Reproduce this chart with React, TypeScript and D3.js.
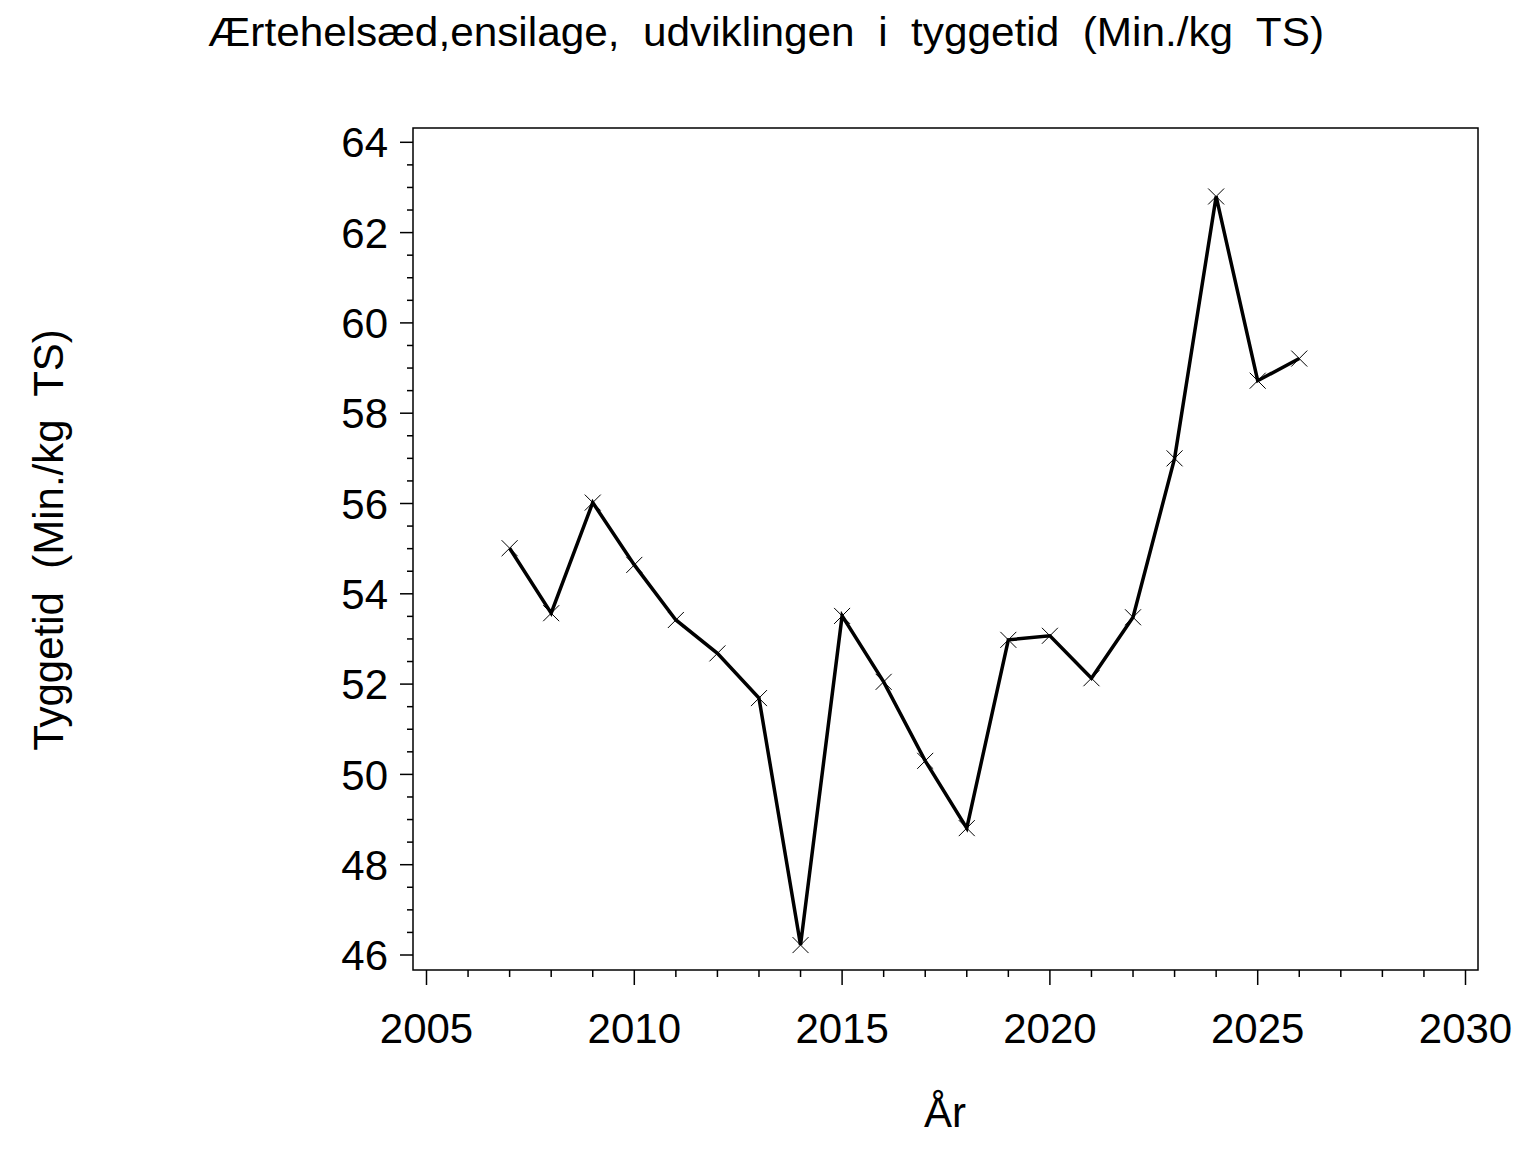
import * as d3 from "d3";

const years = [2007, 2008, 2009, 2010, 2011, 2012, 2013, 2014, 2015, 2016, 2017, 2018, 2019, 2020, 2021, 2022, 2023, 2024, 2025, 2026];
const tyggetid = [55.01, 53.57, 56.02, 54.64, 53.42, 52.68, 51.69, 46.22, 53.51, 52.05, 50.3, 48.81, 52.98, 53.07, 52.13, 53.48, 57.0, 62.8, 58.72, 59.21];
const yTicks = [46, 48, 50, 52, 54, 56, 58, 60, 62, 64];
const xTicks = [2005, 2010, 2015, 2020, 2025, 2030];

const title = "Ærtehelsæd,ensilage,  udviklingen  i  tyggetid  (Min./kg  TS)";
const yLabel = "Tyggetid  (Min./kg  TS)";
const xLabel = "År";

const W = 1536;
const H = 1152;
const frame = { left: 413, right: 1478, top: 128, bottom: 970 };
const font = "'Liberation Sans', Arial, Helvetica, sans-serif";

export default function App() {
  const x = d3.scaleLinear().domain([2005, 2030]).range([426.5, 1465.5]);
  const y = d3.scaleLinear().domain([46, 64]).range([955, 142.3]);

  const pts = years.map((yr, i) => ({ yr, v: tyggetid[i] }));
  const line = d3
    .line<{ yr: number; v: number }>()
    .x((d) => x(d.yr))
    .y((d) => y(d.v));

  const yMinor = d3.range(46, 64.01, 0.5).filter((v) => !yTicks.includes(v));
  const xMinor = d3.range(2005, 2030.01, 1).filter((v) => !xTicks.includes(v));

  return (
    <svg
      width={W}
      height={H}
      style={{ display: "block", position: "absolute", left: 0, top: 0, background: "#fff" }}
      fontFamily={font}
    >
      <text
        x={766}
        y={46}
        fontSize={40}
        textAnchor="middle"
        textLength={1116}
        lengthAdjust="spacingAndGlyphs"
        style={{ whiteSpace: "pre" }}
      >
        {title}
      </text>

      <rect
        x={frame.left}
        y={frame.top}
        width={frame.right - frame.left}
        height={frame.bottom - frame.top}
        fill="none"
        stroke="#000"
        strokeWidth={1.5}
      />

      {/* y axis */}
      {yTicks.map((t) => (
        <g key={"y" + t}>
          <line x1={frame.left - 13} x2={frame.left} y1={y(t)} y2={y(t)} stroke="#000" strokeWidth={1.5} />
          <text x={388} y={y(t)} dy="0.36em" fontSize={42} textAnchor="end">
            {t}
          </text>
        </g>
      ))}
      {yMinor.map((t) => (
        <line key={"ym" + t} x1={frame.left - 6} x2={frame.left} y1={y(t)} y2={y(t)} stroke="#000" strokeWidth={1.5} />
      ))}

      {/* x axis */}
      {xTicks.map((t) => (
        <g key={"x" + t}>
          <line x1={x(t)} x2={x(t)} y1={frame.bottom} y2={frame.bottom + 15} stroke="#000" strokeWidth={1.5} />
          <text x={x(t)} y={1043} fontSize={42} textAnchor="middle">
            {t}
          </text>
        </g>
      ))}
      {xMinor.map((t) => (
        <line key={"xm" + t} x1={x(t)} x2={x(t)} y1={frame.bottom} y2={frame.bottom + 7} stroke="#000" strokeWidth={1.5} />
      ))}

      <text
        transform={`translate(63,540) rotate(-90)`}
        fontSize={42}
        textAnchor="middle"
        style={{ whiteSpace: "pre" }}
      >
        {yLabel}
      </text>
      <text x={945} y={1127} fontSize={42} textAnchor="middle">
        {xLabel}
      </text>

      <path d={line(pts) ?? ""} fill="none" stroke="#000" strokeWidth={3.5} strokeLinejoin="miter" />
      {pts.map((d) => (
        <path
          key={"m" + d.yr}
          d={`M${x(d.yr) - 8},${y(d.v) - 8}L${x(d.yr) + 8},${y(d.v) + 8}M${x(d.yr) - 8},${y(d.v) + 8}L${x(d.yr) + 8},${y(d.v) - 8}`}
          stroke="#000"
          strokeWidth={1}
          fill="none"
        />
      ))}
    </svg>
  );
}
